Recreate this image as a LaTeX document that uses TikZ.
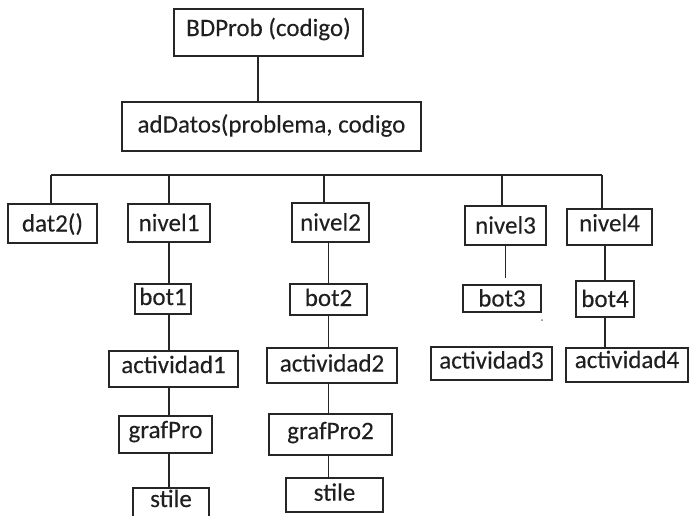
\documentclass[tikz,border=0pt]{standalone}
\usepackage{fontspec}
\setmainfont{Carlito}[FakeBold=0.2]
\begin{document}
\begin{tikzpicture}[x=1pt,y=-1pt,
  line width=1.8pt,
  link/.style={draw=black!85},
  box/.style={draw=black!85, rectangle, inner sep=0pt, text=black!88,
    font=\fontsize{25}{30}\selectfont, text height=16pt},
  % #1 = distance of the text baseline below the box centre
  tb/.style={text depth={16pt-2*#1pt}}
]
\useasboundingbox (0,0) rectangle (691,515);

% root and data loader
\node[box, tb=3.5, minimum width=189pt, minimum height=47pt] (bdprob) at (268.5,32.5) {BDProb (codigo)};
\node[box, tb=6, minimum width=299pt, minimum height=49pt] (addatos) at (271.5,126.5) {adDatos(problema, codigo};

% first level
\node[box, tb=11.5, minimum width=89pt, minimum height=39pt] (dat2) at (52.5,223.5) {dat2()};
\node[box, tb=11.5, minimum width=82pt, minimum height=38pt] (nivel1) at (169,223) {nivel1};
\node[box, tb=9.5, minimum width=77pt, minimum height=39pt] (nivel2) at (330.5,222.5) {nivel2};
\node[box, tb=8, minimum width=81pt, minimum height=39pt] (nivel3) at (505.5,225.5) {nivel3};
\node[box, tb=4.3, minimum width=85pt, minimum height=36pt] (nivel4) at (609.5,227) {nivel4};

% bot row
\node[box, tb=6, minimum width=56pt, minimum height=30pt] (bot1) at (163,299) {bot1};
\node[box, tb=6.5, minimum width=77pt, minimum height=31pt] (bot2) at (328.5,299.5) {bot2};
\node[box, tb=8.5, minimum width=78pt, minimum height=27pt] (bot3) at (502,298.5) {bot3};
\node[box, tb=9.7, minimum width=58pt, minimum height=36pt] (bot4) at (605,299) {bot4};

% actividad row
\node[box, tb=4, minimum width=129pt, minimum height=36pt] (act1) at (173.5,369) {actividad1};
\node[box, tb=6, minimum width=130pt, minimum height=35pt] (act2) at (332,365.5) {actividad2};
\node[box, tb=5, minimum width=121pt, minimum height=33pt] (act3) at (491.5,363.5) {actividad3};
\node[box, tb=3, minimum width=122pt, minimum height=34pt, xshift=-4pt] (act4) at (631,365) {actividad4};

% graph row
\node[box, tb=3.5, minimum width=93pt, minimum height=37pt] (graf1) at (165.5,434.5) {grafPro};
\node[box, tb=4.5, minimum width=123pt, minimum height=41pt] (graf2) at (330.5,434.5) {grafPro2};

% style row (runs off the lower edge)
\node[box, tb=3, minimum width=76pt, minimum height=32pt] (stile1) at (171,504) {stile};
\node[box, tb=5.7, minimum width=97pt, minimum height=34pt] (stile2) at (334.5,495) {stile};

% root link
\draw[link] ([xshift=-10.5pt]bdprob.south) -- ([xshift=-10.5pt]bdprob.south |- addatos.north);

% bus and drops to the first level
\coordinate (busL) at (51,175);
\coordinate (busR) at (602,175);
\coordinate (drop1) at (169,175);
\coordinate (drop2) at (324,175);
\coordinate (drop3) at (502,175);
\draw[link] (busL) -- (busR);
\draw[link] (busL) -- (busL |- dat2.north);
\draw[link] (drop1) -- (drop1 |- nivel1.north);
\draw[link] (drop2) -- (drop2 |- nivel2.north);
\draw[link] (drop3) -- (drop3 |- nivel3.north);
\draw[link] (busR) -- (busR |- nivel4.north);

% column 1
\draw[link] (nivel1.south) -- (nivel1.south |- bot1.north);
\draw[link] (bot1.south -| nivel1) -- (act1.north -| nivel1);
\draw[link] (act1.south -| nivel1) -- (graf1.north -| nivel1);
\draw[link] (graf1.south -| nivel1) -- (stile1.north -| nivel1);

% column 2
\draw[link] (nivel2.south -| bot2) -- (bot2.north);
\draw[link] (bot2.south) -- (act2.north -| bot2);
\draw[link] (act2.south -| bot2) -- (graf2.north -| bot2);
\draw[link] (graf2.south -| bot2) -- (stile2.north -| bot2);

% column 3: short open stub
\coordinate (stub3) at (505.5,278);
\draw[link] (nivel3.south) -- (stub3);

% column 4
\draw[link] (nivel4.south -| bot4) -- (bot4.north);
\draw[link] (bot4.south) -- (act4.north -| bot4);

% stray speck
\fill[black!50] (542,320) circle (1pt);
\end{tikzpicture}
\end{document}
